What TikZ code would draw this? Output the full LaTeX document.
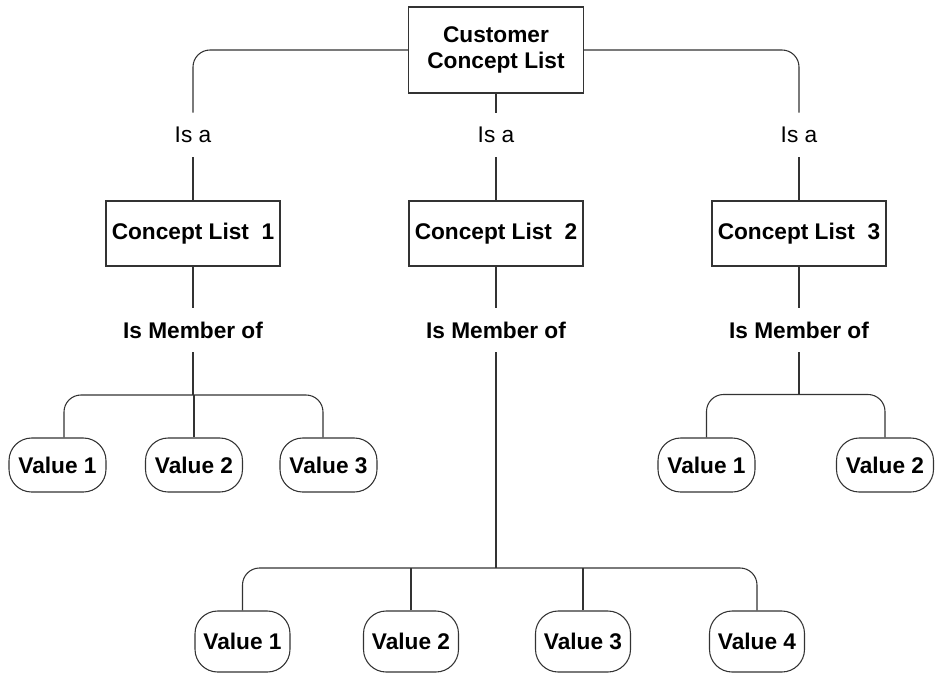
\documentclass[tikz,border=0pt]{standalone}
\usepackage{fontspec}
\setmainfont{Liberation Sans}
\usetikzlibrary{calc}
\begin{document}
\begin{tikzpicture}[x=0.75pt,y=-0.75pt,
  conn/.style={draw=black!80, line width=0.8pt},
  lbl/.style={font=\fontsize{17}{19}\selectfont},
  listbox/.style={lbl, draw=black!80, line width=0.8pt, fill=white, inner sep=0pt,
    align=center, font=\fontsize{17}{19}\selectfont\bfseries},
  valbox/.style={draw=black!80, line width=0.8pt, rounded corners=17pt, inner sep=0pt,
    minimum width=72.75pt, minimum height=40.5pt,
    font=\fontsize{17}{19}\selectfont\bfseries},
  lowval/.style={valbox, minimum width=71.25pt, minimum height=45.75pt},
  rel/.style={lbl, inner sep=0pt, minimum height=33pt},
  memrel/.style={rel, font=\fontsize{17}{19}\selectfont\bfseries},
  elbow/.style={conn, rounded corners=12.75pt}]

\fill[white] (0,0) rectangle (935,675);
\useasboundingbox (0,0) rectangle (935,675);

% root and the three concept lists
\node[listbox, minimum width=131.25pt, minimum height=64.5pt] (top) at (496,50) {Customer\\Concept List};
\node[rel] (isa1) at (193,135) {Is a};
\node[rel] (isa2) at (496,135) {Is a};
\node[rel] (isa3) at (799,135) {Is a};
\node[listbox, minimum width=130.5pt, minimum height=48.75pt] (c1) at (193,233.5) {Concept List~~1};
\node[listbox, minimum width=130.5pt, minimum height=48.75pt] (c2) at (496,233.5) {Concept List~~2};
\node[listbox, minimum width=130.5pt, minimum height=48.75pt] (c3) at (799,233.5) {Concept List~~3};
\node[memrel] (mem1) at (193,330) {Is Member of};
\node[memrel] (mem2) at (496,330) {Is Member of};
\node[memrel] (mem3) at (799,330) {Is Member of};

% values
\node[valbox] (v11) at (57.5,465) {Value 1};
\node[valbox] (v12) at (194,465) {Value 2};
\node[valbox] (v13) at (328.5,465) {Value 3};
\node[valbox] (v31) at (706.5,465) {Value 1};
\node[valbox] (v32) at (885,465) {Value 2};
\node[lowval] (v21) at (242.5,641.5) {Value 1};
\node[lowval] (v22) at (411,641.5) {Value 2};
\node[lowval] (v23) at (583,641.5) {Value 3};
\node[lowval] (v24) at (757,641.5) {Value 4};

% junctions of the value bars
\coordinate (j1) at (193,395);
\coordinate (j2) at (496,568);
\coordinate (j3) at (799,394.5);

% root to lists
\draw[elbow] (top.west) -| (isa1.north);
\draw[elbow] (top.east) -| (isa3.north);
\draw[conn] (top.south) -- (isa2.north);
\foreach \i in {1,2,3} {
  \draw[conn] (isa\i.south) -- (c\i.north);
  \draw[conn] (c\i.south) -- (mem\i.north);
}

% first list
\draw[conn] (mem1.south) -- (j1);
\draw[elbow] ($(v11.north)+(6.5,0)$) |- (j1) -| ($(v13.north)+(-5.5,0)$);
\draw[conn] (v12.north) -- (v12.north |- j1);

% second list
\draw[conn] (mem2.south) -- (j2);
\draw[elbow] (v21.north) |- (j2) -| (v24.north);
\draw[conn] (v22.north) -- (v22.north |- j2);
\draw[conn] (v23.north) -- (v23.north |- j2);

% third list
\draw[conn] (mem3.south) -- (j3);
\draw[elbow] (v31.north) |- (j3) -| (v32.north);
\end{tikzpicture}
\end{document}
